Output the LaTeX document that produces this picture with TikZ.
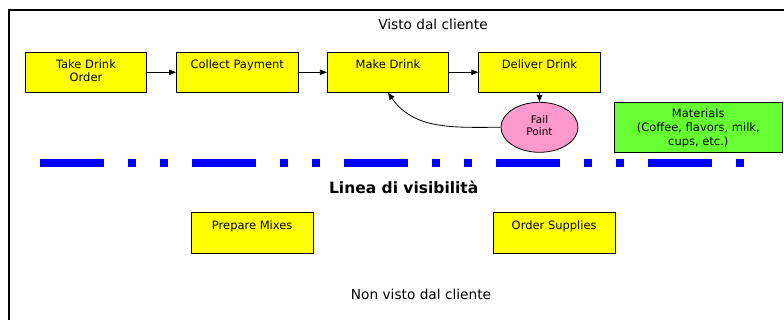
\documentclass[tikz,border=0pt]{standalone}
\usepackage{fontspec}
\setmainfont{DejaVu Sans}
\usetikzlibrary{arrows.meta,shapes.geometric}
\definecolor{boxyellow}{RGB}{255,255,0}
\definecolor{matgreen}{RGB}{102,255,51}
\definecolor{failpink}{RGB}{255,153,204}
\definecolor{lineblue}{RGB}{0,0,255}
\begin{document}
\begin{tikzpicture}[x=1pt,y=-1pt,
  stepbox/.style={draw=black, line width=0.8pt, fill=boxyellow, minimum width=121.5pt, minimum height=40pt, inner sep=0pt},
  boxtext/.style={anchor=base, inner sep=0pt, align=center, font=\fontsize{11.5}{13.2}\selectfont},
  flow/.style={-{Triangle[length=7pt,width=5.5pt]}, line width=0.8pt},
  bigtext/.style={anchor=base, inner sep=0pt, font=\fontsize{13.7}{16}\selectfont}
]
\useasboundingbox (0,0) rectangle (784,320);

% frame
\draw[line width=2pt] (9,320) -- (9,10.5) -- (784,10.5);

% line of visibility
\draw[lineblue, line width=7.5pt, dash pattern=on 64pt off 24pt on 8pt off 24pt on 8pt off 24pt] (40,163) -- (744,163);

% top row
\node[stepbox] (take) at (86,72.3) {};
\node[stepbox] (collect) at (237.2,72.3) {};
\node[stepbox] (make) at (388,72.3) {};
\node[stepbox] (deliver) at (539.5,72.3) {};
\node[boxtext] (taket) at (86,81.7) {Take Drink\\Order};
\node[boxtext] (collectt) at (237.2,68.5) {Collect Payment};
\node[boxtext] (maket) at (388,68.5) {Make Drink};
\node[boxtext] (delivert) at (539.5,68.5) {Deliver Drink};

% fail point
\node[ellipse, draw=black, line width=0.8pt, fill=failpink, minimum width=77pt, minimum height=50pt, inner sep=0pt] (fail) at (539.5,127.3) {};
\node[anchor=base, inner sep=0pt, align=center, font=\fontsize{10.5}{12}\selectfont] (failt) at (539.5,135.5) {Fail\\Point};

% materials
\node[draw=black, line width=0.8pt, fill=matgreen, minimum width=168pt, minimum height=50pt, inner sep=0pt] (mat) at (698.3,127.7) {};
\node[anchor=base, inner sep=0pt, align=center, font=\fontsize{11.5}{13.7}\selectfont] (matt) at (698.3,145.1) {Materials\\(Coffee, flavors, milk,\\cups, etc.)};

% bottom row
\node[stepbox, minimum height=41pt] (prep) at (252.2,233.2) {};
\node[stepbox, minimum height=41pt] (order) at (554.2,233.2) {};
\node[boxtext] (prept) at (252.2,229.3) {Prepare Mixes};
\node[boxtext] (ordert) at (554.2,229.3) {Order Supplies};

% labels
\node[bigtext] (visto) at (433,29.3) {Visto dal cliente};
\node[bigtext] (nonvisto) at (421,299) {Non visto dal cliente};
\node[anchor=base, inner sep=0pt, font=\fontsize{15.5}{18}\selectfont\bfseries] (linea) at (403.7,193.3) {Linea di visibilità};

% connectors
\draw[flow] (take) -- (collect);
\draw[flow] (collect) -- (make);
\draw[flow] (make) -- (deliver);
\draw[flow] (deliver) -- (fail);
\draw[flow] (fail.west) to[out=180,in=-55] (make.south);
\end{tikzpicture}
\end{document}
